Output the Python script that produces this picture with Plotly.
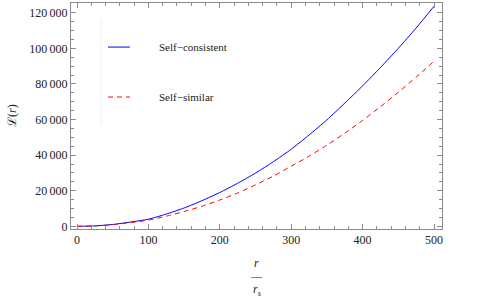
import plotly.graph_objects as go

# data
r_values = [0, 25, 50, 75, 100, 125, 150, 175, 200, 225, 250, 275, 300,
            325, 350, 375, 400, 425, 450, 475, 500]
self_consistent = [0, 250, 1050, 2400, 4000, 6900, 10300, 14400, 19000, 24200,
                   29900, 36300, 43300, 51300, 59800, 69200, 78900, 89200,
                   100000, 111400, 123600]
self_similar = [0, 230, 900, 2050, 3500, 5700, 8300, 11300, 14800, 18700,
                23300, 28200, 33800, 39400, 45600, 52300, 59500, 67200,
                75300, 83800, 92700]
series_names = ["Self\u2212consistent", "Self\u2212similar"]
series_colors = ["#0000ff", "#ff0000"]
series_dash = ["solid", "5px,4px"]
x_ticks = [0, 100, 200, 300, 400, 500]
y_ticks = [0, 20000, 40000, 60000, 80000, 100000, 120000]
y_tick_labels = ["0"] + [f"{v // 1000}\u2009000" for v in y_ticks[1:]]

FONT = "Liberation Serif, Times New Roman, serif"
FRAME = "#8c8c8c"

fig = go.Figure()
for name, ys, col, dash in zip(series_names, [self_consistent, self_similar],
                               series_colors, series_dash):
    fig.add_trace(go.Scatter(
        x=r_values, y=ys, mode="lines", name=name, showlegend=False,
        line=dict(color=col, width=1, dash=dash, shape="spline", smoothing=0.6)))

axis_common = dict(
    showgrid=False, zeroline=False, showline=True, linecolor=FRAME, linewidth=1,
    mirror="allticks", ticks="inside", tickcolor=FRAME, ticklen=5, tickwidth=1,
    tickfont=dict(family=FONT, size=12, color="#222"),
)

fig.update_layout(
    width=485, height=302,
    margin=dict(l=71, r=43, t=3, b=73),
    paper_bgcolor="white", plot_bgcolor="white",
    font=dict(family=FONT, size=11, color="#222"),
    showlegend=False,
    xaxis=dict(range=[-8.4, 511.2], tickvals=x_ticks,
               minor=dict(ticks="inside", dtick=20, ticklen=3, tickcolor=FRAME, tick0=0),
               **axis_common),
    yaxis=dict(range=[-1500, 125450], tickvals=y_ticks, ticktext=y_tick_labels,
               minor=dict(ticks="inside", dtick=5000, ticklen=3, tickcolor=FRAME, tick0=0),
               **axis_common),
)

# legend (drawn in paper coordinates, Mathematica style)
fig.add_shape(type="line", xref="paper", yref="paper",
              x0=0.081, x1=0.081, y0=0.46, y1=0.934,
              line=dict(color="#eeeeee", width=1))
legend_rows_y = [0.805, 0.584]
for name, col, dash, ly in zip(series_names, series_colors, series_dash, legend_rows_y):
    fig.add_shape(type="line", xref="paper", yref="paper",
                  x0=0.0997, x1=0.159, y0=ly, y1=ly,
                  line=dict(color=col, width=1, dash=dash))
    fig.add_annotation(text=name, xref="paper", yref="paper",
                       x=0.2318, y=ly, xanchor="left", yanchor="middle",
                       showarrow=False,
                       font=dict(family=FONT, size=11, color="#222"))

# axis titles
fig.add_annotation(text="\u2112(<i>r</i>)", xref="paper", yref="paper",
                   x=-0.159, y=0.5, xanchor="center", yanchor="middle",
                   textangle=-90, showarrow=False,
                   font=dict(family=FONT, size=12, color="#222"))
fig.add_annotation(text="<i>r</i>", xref="paper", yref="paper",
                   x=0.5, y=-0.15, xanchor="center", yanchor="middle", showarrow=False,
                   font=dict(family=FONT, size=12, color="#222"))
fig.add_annotation(text="\u2014", xref="paper", yref="paper",
                   x=0.5, y=-0.207, xanchor="center", yanchor="middle", showarrow=False,
                   font=dict(family=FONT, size=11, color="#222"))
fig.add_annotation(text="<i>r</i><sub><i>s</i></sub>", xref="paper", yref="paper",
                   x=0.5, y=-0.27, xanchor="center", yanchor="middle", showarrow=False,
                   font=dict(family=FONT, size=12, color="#222"))

fig.write_html("out.html", config={"displayModeBar": False},
               post_script="document.body.style.margin='0';document.body.style.padding='0';")
